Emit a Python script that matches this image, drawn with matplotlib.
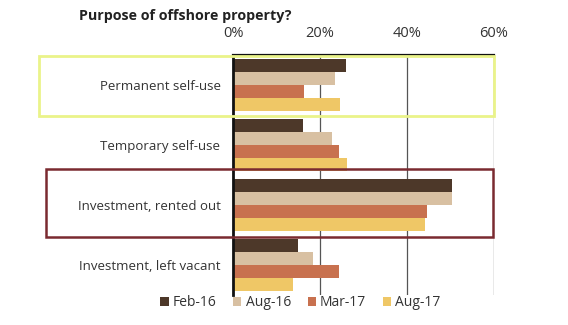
import matplotlib
matplotlib.use("Agg")
import matplotlib.pyplot as plt
import numpy as np
from matplotlib.patches import Rectangle

plt.rcParams['font.family'] = ['Open Sans', 'DejaVu Sans']

# ---- data ------------------------------------------------------------------
categories = ["Permanent self-use", "Temporary self-use",
              "Investment, rented out", "Investment, left vacant"]
series = ["Feb-16", "Aug-16", "Mar-17", "Aug-17"]
feb16 = [25.9, 16.0, 50.3, 14.9]
aug16 = [23.5, 22.8, 50.3, 18.4]
mar17 = [16.3, 24.4, 44.5, 24.4]
aug17 = [24.7, 26.3, 44.1, 13.7]
values = [feb16, aug16, mar17, aug17]
xticks = [0, 20, 40, 60]

colors = ["#4d3829", "#d8c0a2", "#c8714f", "#efc766"]
INK = "#333333"

W, H = 568, 325
fig = plt.figure(figsize=(W / 100, H / 100), dpi=100)
ax = fig.add_axes([233 / W, 1 - 295 / H, (494 - 233) / W, (295 - 55) / H])

bh = 0.217
y = np.arange(len(categories))
for i, (name, vals, c) in enumerate(zip(series, values, colors)):
    ax.barh(y - 1.5 * bh + i * bh, vals, height=bh, color=c, label=name,
            zorder=3, linewidth=0)

ax.set_xlim(0, 60)
ax.set_ylim(3.5, -0.5)
ax.set_xticks(xticks)
ax.set_xticklabels([f"{t}%" for t in xticks], fontsize=10.5, color=INK)
ax.xaxis.tick_top()
ax.tick_params(axis="x", length=0, pad=10)
ax.set_yticks(y)
ax.set_yticklabels(categories, fontsize=9.5, color=INK)
ax.tick_params(axis="y", length=0, pad=9)
for t in xticks[1:]:
    ax.axvline(t, color="#555555", lw=0.9, zorder=1)
for s in ["right", "bottom"]:
    ax.spines[s].set_visible(False)
ax.spines["left"].set_linewidth(2.0)
ax.spines["left"].set_color("#111111")
ax.spines["left"].set_zorder(4)
ax.spines["top"].set_linewidth(1.6)
ax.spines["top"].set_color("#111111")

# highlight boxes (pixel coords -> figure fraction)
def pbox(x0, y0, x1, y1, ec, lw):
    fig.add_artist(Rectangle((x0 / W, 1 - y1 / H), (x1 - x0) / W, (y1 - y0) / H,
                             transform=fig.transFigure, fill=False,
                             edgecolor=ec, linewidth=lw, zorder=10))

pbox(39, 56, 494, 116, "#eaf38a", 2.0)
pbox(46, 169, 493, 237, "#7a2a30", 1.8)

fig.text(79 / W, 1 - 16 / H, "Purpose of offshore property?", fontsize=10.3,
         fontweight="bold", color="#222222", va="center", ha="left")

ax.legend(loc="upper center", bbox_to_anchor=(0.5 - 63 / 261, 0.05), ncol=4,
          frameon=False, fontsize=10, handlelength=0.6, handleheight=0.6,
          handletextpad=0.3, columnspacing=1.2, labelcolor=INK)

fig.savefig("out.png", dpi=100)
